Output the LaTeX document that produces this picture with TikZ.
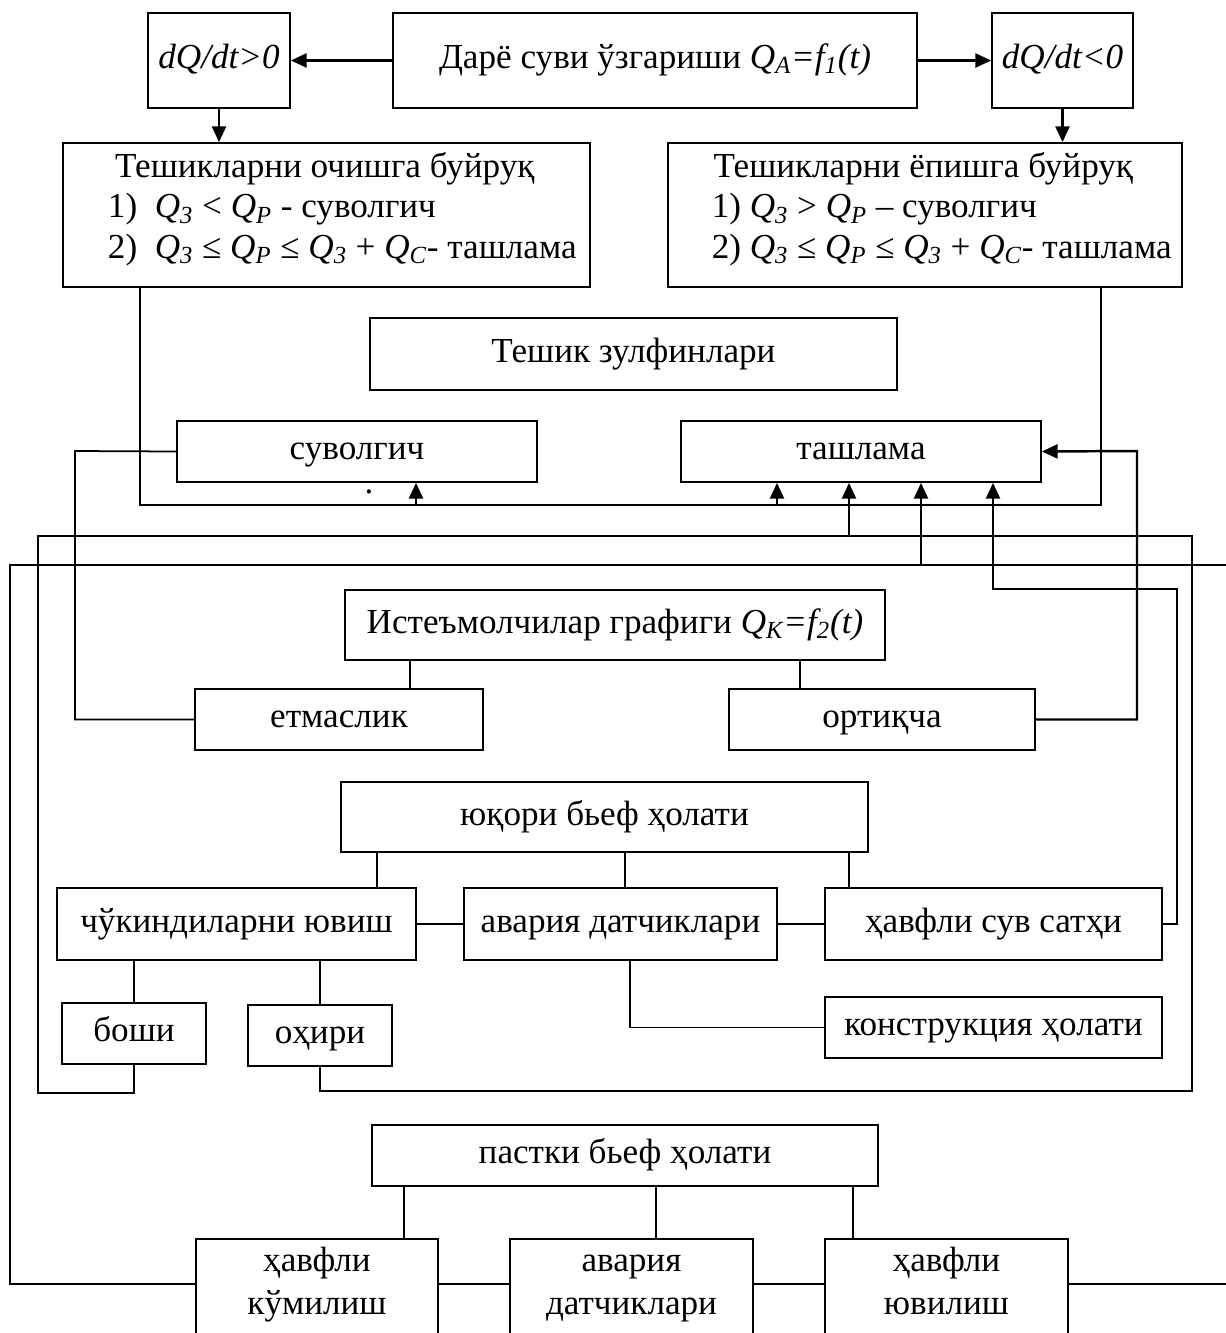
\documentclass[tikz,border=0pt]{standalone}
\usepackage{fontspec}
\setmainfont{Liberation Serif}
\usetikzlibrary{arrows.meta}
\newcommand{\birlik}{0.02cm}
\newcommand{\Qi}[1]{\textit{Q\textsubscript{#1}}}
\newcommand{\quti}[7][bir]{\node[#1,minimum width={(#4-#2)*\birlik},minimum height={(#5-#3)*\birlik}] (#6) at ({(#2+#4)/2},{(#3+#5)/2}) {#7};}

\begin{document}
\begin{tikzpicture}[x=0.02cm,y=-0.02cm,
		blok/.style={draw,line width=1pt,inner sep=0pt,font=\fontsize{20}{23}\selectfont},
		bir/.style={blok,text height=13.6pt,text depth=4.5pt},
		ochiq/.style={blok,draw=none,font=\fontsize{20}{24.5}\selectfont},
		chiziq/.style={line width=1pt},
		strelka/.style={line width=1.4pt,-{Triangle[length=9pt,width=8pt]}}]
		\useasboundingbox (0,0) rectangle (1226,1333);
		\clip (0,0) rectangle (1226,1333);
		
		% yuqori qism
		\quti{148}{13}{290}{108}{dqp}{\textit{dQ/dt>0}}
		\quti{393}{13}{917}{108}{dare}{Дарё суви ўзгариши \textit{Q\textsubscript{A}=f\textsubscript{1}(t)}}
		\quti{992}{13}{1133}{108}{dqm}{\textit{dQ/dt<0}}
		\quti[blok]{63}{143}{590}{287}{ochish}{\begin{tabular}{@{\hspace{18pt}}l@{}}\hspace{4pt}Тешикларни очишга буйруқ\\1)\enspace\Qi{3} < \Qi{P} - суволгич\\2)\enspace\Qi{3} ≤ \Qi{P} ≤ \Qi{3} + \Qi{C}- ташлама\\[6pt]\end{tabular}}
		\quti[blok]{668}{143}{1182}{287}{yopish}{\begin{tabular}{@{\hspace{19pt}}l@{}}\hspace{1pt}Тешикларни ёпишга буйруқ\\1) \Qi{3} > \Qi{P} – суволгич\\2) \Qi{3} ≤ \Qi{P} ≤ \Qi{3} + \Qi{C}- ташлама\\[6pt]\end{tabular}}
		\quti{370}{318}{897}{390}{zulfin}{Тешик зулфинлари}
		\quti{177}{421}{537}{482}{suvolgich}{суволгич}
		\quti{681}{421}{1041}{482}{tashlama}{ташлама}
		\node[font=\fontsize{20}{24}\selectfont,inner sep=0pt,text height=2pt,text depth=0pt] (nuqta) at (369,492) {.};
		
		% iste'molchilar
		\quti{345}{590}{885}{660}{istemol}{Истеъмолчилар графиги \textit{Q\textsubscript{K}=f\textsubscript{2}(t)}}
		\quti{195}{689}{483}{750}{etmaslik}{етмаслик}
		\quti{729}{689}{1035}{750}{ortiqcha}{ортиқча}
		
		% yuqori bef
		\quti{341}{782}{868}{852}{yuqori}{юқори бьеф ҳолати}
		\quti{57}{888}{416}{960}{chukindi}{чўкиндиларни ювиш}
		\quti{464}{888}{777}{960}{avariya}{авария датчиклари}
		\quti{825}{888}{1162}{960}{satxi}{ҳавфли сув сатҳи}
		\quti{825}{997}{1162}{1058}{konstr}{конструкция ҳолати}
		\quti{62}{1003}{206}{1064}{boshi}{боши}
		\quti{248}{1005}{392}{1066}{ohiri}{оҳири}
		
		% pastki bef
		\quti{372}{1125}{878}{1186}{pastki}{пастки бьеф ҳолати}
		\quti[ochiq]{197}{1240}{437}{1328}{kumilish}{\begin{tabular}{c}ҳавфли\\кўмилиш\end{tabular}}
		\quti[ochiq]{511}{1240}{752}{1328}{avariyab}{\begin{tabular}{c}авария\\датчиклари\end{tabular}}
		\quti[ochiq]{826}{1240}{1067}{1328}{yuvilish}{\begin{tabular}{c}ҳавфли\\ювилиш\end{tabular}}
		\foreach \q in {kumilish,avariyab,yuvilish}{
			\draw[chiziq] ([yshift=-1cm]\q.south west) |- (\q.north east) -- ([yshift=-1cm]\q.south east);
		}
		
		\coordinate (k1) at (140,505);
		\coordinate (k2) at (1101,505);
		\coordinate (b1) at (38,1093);
		\coordinate (b2) at (38,536);
		\coordinate (b3) at (1192,536);
		\coordinate (b4) at (1192,1091);
		\coordinate (h1) at (10,1284);
		\coordinate (h2) at (10,565);
		\coordinate (h3) at (1240,565);
		\coordinate (h4) at (1240,1284);
		\coordinate (c1) at (1177,589);
		\coordinate (c2) at (993,589);
		\coordinate (o1) at (1137,451);
		\coordinate (e1) at (75,451);
		
		\draw[strelka] (dare.west) -- (dqp.east);
		\draw[strelka] (dare.east) -- (dqm.west);
		\draw[strelka] (dqp.south) -- (dqp.south |- ochish.north);
		\draw[strelka] (dqm.south) -- (dqm.south |- yopish.north);
		
		\draw[chiziq] (ochish.south -| k1) -- (k1) -- (k2) -- (yopish.south -| k2);
		\draw[strelka] (416,505) -- (suvolgich.south -| 416,0);
		\draw[strelka] (777,505) -- (tashlama.south -| 777,0);
		
		\draw[chiziq] (boshi.south) |- (b1) -- (b2) -- (b3) -- (b4) -| (ohiri.south);
		\draw[strelka] (849,536) -- (tashlama.south -| 849,0);
		
		\draw[chiziq] (kumilish.west) -- (h1) -- (h2) -- (h3) -- (h4) -- (yuvilish.east);
		\draw[strelka] (921,565) -- (tashlama.south -| 921,0);
		
		\draw[strelka] (satxi.east) -| (c1) -- (c2) -- (tashlama.south -| c2);
		\draw[strelka] (ortiqcha.east) -| (o1) -- (tashlama.east);
		\draw[chiziq] (etmaslik.west) -| (e1) -- (suvolgich.west);
		
		\draw[chiziq] (istemol.south -| 410,0) -- (etmaslik.north -| 410,0);
		\draw[chiziq] (istemol.south -| 800,0) -- (ortiqcha.north -| 800,0);
		\draw[chiziq] (yuqori.south -| 377,0) -- (chukindi.north -| 377,0);
		\draw[chiziq] (yuqori.south -| 625,0) -- (avariya.north -| 625,0);
		\draw[chiziq] (yuqori.south -| 849,0) -- (satxi.north -| 849,0);
		\draw[chiziq] (chukindi.east) -- (avariya.west);
		\draw[chiziq] (avariya.east) -- (satxi.west);
		\draw[chiziq] (avariya.south -| 630,0) |- (konstr.west);
		\draw[chiziq] (chukindi.south -| boshi.north) -- (boshi.north);
		\draw[chiziq] (chukindi.south -| ohiri.north) -- (ohiri.north);
		
		\draw[chiziq] (pastki.south -| 404,0) -- (kumilish.north -| 404,0);
		\draw[chiziq] (pastki.south -| 656,0) -- (avariyab.north -| 656,0);
		\draw[chiziq] (pastki.south -| 853,0) -- (yuvilish.north -| 853,0);
		\draw[chiziq] (kumilish.east) -- (avariyab.west);
		\draw[chiziq] (avariyab.east) -- (yuvilish.west);
		
\end{tikzpicture}
\end{document}
